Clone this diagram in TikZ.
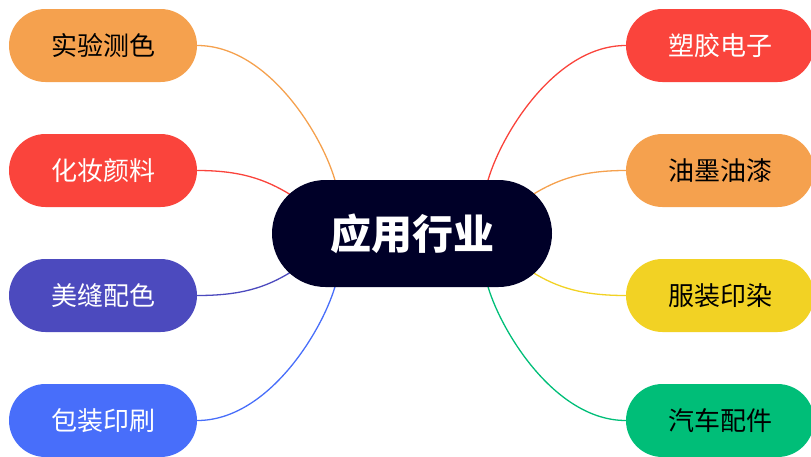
\documentclass[tikz,border=0pt]{standalone}
\usepackage{fontspec}
\newfontfamily\cjk{Noto Sans CJK SC}
\definecolor{corange}{RGB}{245,161,78}
\definecolor{cred}{RGB}{250,68,60}
\definecolor{cpurple}{RGB}{76,74,190}
\definecolor{cblue}{RGB}{72,110,250}
\definecolor{cyellow}{RGB}{242,210,36}
\definecolor{cgreen}{RGB}{0,190,120}
\definecolor{cnavy}{RGB}{0,0,40}
\begin{document}
\begin{tikzpicture}[x=1pt,y=-1pt,
  leaf/.style={rounded corners=36.5pt, minimum width=188pt, minimum height=73pt, inner sep=0pt, font=\cjk\fontsize{26}{30}\selectfont},
  hub/.style={fill=cnavy, rounded corners=53.5pt, minimum width=280pt, minimum height=107pt, inner sep=0pt, text=white, font=\cjk\bfseries\fontsize{41}{46}\selectfont},
  link/.style={line width=1.3pt}]
\useasboundingbox (0,0) rectangle (811,456);
\clip (0,0) rectangle (811,456);
% entry points on hub
\coordinate (e1) at (336,184);
\coordinate (e2) at (291,195);
\coordinate (e3) at (291,272);
\coordinate (e4) at (336,283);
\coordinate (e5) at (487,184);
\coordinate (e6) at (532,195);
\coordinate (e7) at (532,272);
\coordinate (e8) at (487,283);
% leaves
\node[leaf, fill=corange, text=black] (l1) at (103,45.5) {实验测色};
\node[leaf, fill=cred, text=white] (l2) at (103,170.5) {化妆颜料};
\node[leaf, fill=cpurple, text=white] (l3) at (103,295.5) {美缝配色};
\node[leaf, fill=cblue, text=white] (l4) at (103,420.5) {包装印刷};
\node[leaf, fill=cred, text=white] (r1) at (720,45.5) {塑胶电子};
\node[leaf, fill=corange, text=black] (r2) at (720,170.5) {油墨油漆};
\node[leaf, fill=cyellow, text=black] (r3) at (720,295.5) {服装印染};
\node[leaf, fill=cgreen, text=black] (r4) at (720,420.5) {汽车配件};
% connectors
\draw[link, corange] (l1.east) .. controls (270,45.5) and (325,140) .. (e1);
\draw[link, cred] (l2.east) .. controls (240,170.5) and (265,179) .. (e2);
\draw[link, cpurple] (l3.east) .. controls (240,295.5) and (265,288) .. (e3);
\draw[link, cblue] (l4.east) .. controls (270,420.5) and (325,326) .. (e4);
\draw[link, cred] (r1.west) .. controls (553,45.5) and (498,140) .. (e5);
\draw[link, corange] (r2.west) .. controls (583,170.5) and (558,179) .. (e6);
\draw[link, cyellow] (r3.west) .. controls (583,295.5) and (558,288) .. (e7);
\draw[link, cgreen] (r4.west) .. controls (553,420.5) and (498,326) .. (e8);
% hub
\node[hub] (hub) at (412,233.5) {应用行业};
\end{tikzpicture}
\end{document}
